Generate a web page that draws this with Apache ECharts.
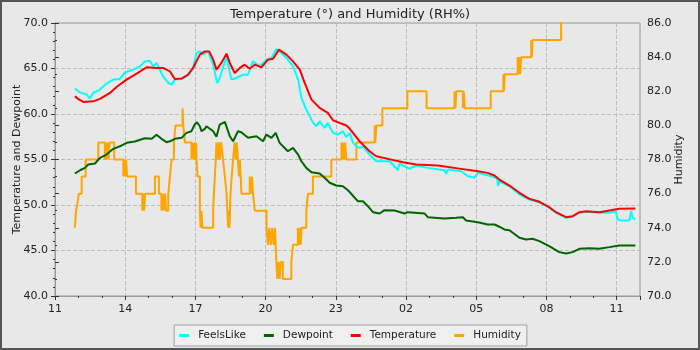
<!DOCTYPE html>
<html>
<head>
<meta charset="utf-8">
<script src="https://cdn.jsdelivr.net/npm/echarts@6/dist/echarts.min.js"></script>
<style>
  html, body { margin: 0; padding: 0; background: #e8e8e8; }
  #chart { width: 700px; height: 350px; }
</style>
</head>
<body>
<div id="chart"></div>
<script>
// Hours since 11:00 on the first day, and readings (°F / RH%).
const tempHours = [0.85,1.02,1.21,1.63,1.92,2.35,2.63,3.06,3.49,3.91,4.34,4.62,4.91,5.12,5.41,5.69,5.90,6.19,6.40,6.59,6.76,6.90,7.11,7.33,7.47,7.68,7.90,8.11,8.32,8.54,8.82,9.10,9.32,9.57,9.89,10.17,10.46,10.67,10.96,11.31,11.66,11.88,12.16,12.45,12.59,13.02,13.44,13.73,14.23,14.87,15.44,16.36,17.36,18.07,18.49,18.78,18.99,19.42,19.85,20.27,20.70,21.12,21.41,21.84,22.12,22.41,22.69,23.26,23.69,24.11,24.80];
const tempValues = [61.94,61.6,61.33,61.39,61.66,62.32,62.97,63.78,64.43,65.13,65.06,65.06,64.69,63.85,63.89,64.32,65.06,66.52,66.88,66.88,65.97,64.87,65.61,66.63,65.61,64.51,65.06,65.42,64.98,65.42,65.13,65.97,66.08,67.07,66.52,65.78,64.87,63.41,61.58,60.67,60.12,59.31,59.02,58.73,58.4,57.0,55.91,55.36,55.07,54.70,54.45,54.34,53.97,53.71,53.53,53.24,52.80,52.14,51.34,50.68,50.35,49.76,49.21,48.66,48.77,49.21,49.32,49.21,49.40,49.58,49.62];

const feelsHours = [0.85,1.07,1.35,1.49,1.63,1.92,2.20,2.49,2.77,2.99,3.34,3.63,3.84,4.05,4.20,4.34,4.48,4.62,4.84,4.98,5.12,5.41,5.62,5.88,6.05,6.19,6.33,6.54,6.76,6.93,7.04,7.33,7.54,7.75,8.04,8.25,8.46,8.75,9.03,9.25,9.46,9.68,9.89,10.17,10.39,10.53,10.74,11.03,11.17,11.31,11.52,11.66,11.88,12.09,12.30,12.45,12.59,12.74,12.88,13.02,13.16,13.44,13.73,14.30,14.65,14.72,15.15,15.44,15.93,16.64,16.72,16.79,17.36,17.64,17.93,18.07,18.64,18.90,18.93,18.99,19.42,19.85,20.27,20.70,21.12,21.41,21.84,22.12,22.41,22.69,23.26,23.69,23.97,24.04,24.19,24.54,24.62,24.69,24.80];
const feelsValues = [62.79,62.38,62.13,61.69,62.32,62.68,63.34,63.78,63.85,64.58,64.87,65.24,65.78,65.86,65.24,65.61,64.87,64.14,63.41,63.23,63.78,63.85,64.14,64.87,66.71,66.88,66.52,66.88,65.42,63.41,63.96,66.33,63.78,63.96,64.32,64.32,65.78,65.24,65.97,66.16,67.15,66.71,66.16,65.24,63.78,61.77,60.48,59.02,58.65,59.20,58.47,59.02,57.93,57.74,58.10,57.49,57.93,56.83,56.45,56.28,56.45,55.54,54.81,54.81,53.82,54.56,53.97,54.34,54.08,53.82,53.42,53.89,53.71,53.16,52.99,53.53,53.16,52.9,52.1,52.6,52.06,51.15,50.6,50.3,49.7,49.15,48.6,48.7,49.15,49.25,49.15,49.14,49.32,48.41,48.3,48.3,49.32,48.6,48.41];

const dewHours = [0.85,1.07,1.28,1.42,1.71,1.92,2.20,2.49,2.77,3.06,3.41,3.84,4.13,4.34,4.55,4.77,4.91,5.12,5.41,5.62,5.83,5.97,6.07,6.19,6.26,6.40,6.47,6.54,6.76,6.90,7.04,7.26,7.47,7.61,7.82,7.96,8.25,8.61,8.89,9.03,9.25,9.43,9.60,9.95,10.17,10.39,10.53,10.74,10.96,11.31,11.52,11.74,12.02,12.30,12.52,12.94,13.16,13.37,13.59,13.87,14.08,14.51,14.94,15.08,15.79,15.93,16.64,17.14,17.43,17.57,18.07,18.49,18.78,18.99,19.20,19.42,19.85,20.13,20.41,20.70,21.12,21.55,21.84,22.12,22.41,22.84,23.26,23.69,24.11,24.80];
const dewValues = [53.46,53.82,54.08,54.45,54.56,55.18,55.54,56.17,56.45,56.83,56.97,57.33,57.27,57.71,57.27,56.90,57.00,57.27,57.38,57.93,58.10,58.84,59.09,58.65,58.10,58.36,58.65,58.47,58.10,57.49,58.84,59.13,57.55,57.00,58.10,58.0,57.38,57.55,57.0,57.74,57.38,57.93,56.83,55.91,56.28,55.54,54.81,54.08,53.6,53.46,52.99,52.44,52.14,52.06,51.62,50.42,50.42,49.87,49.21,49.07,49.43,49.40,49.07,49.21,49.07,48.66,48.52,48.60,48.66,48.30,48.11,47.86,47.86,47.61,47.31,47.23,46.40,46.21,46.29,46.03,45.48,44.82,44.68,44.82,45.19,45.26,45.19,45.37,45.55,45.55];

// Humidity changes: each value holds from its hour until the next one.
const humHours = [0.85,0.90,0.97,1.02,1.14,1.31,1.85,2.13,2.17,2.21,2.25,2.29,2.33,2.53,2.92,2.96,3.00,3.04,3.08,3.46,3.73,3.77,3.81,3.85,4.27,4.44,4.55,4.60,4.65,4.70,4.75,4.84,4.91,4.98,5.08,5.15,5.45,5.48,5.55,5.83,5.87,5.91,5.95,5.99,6.03,6.05,6.09,6.19,6.22,6.26,6.30,6.76,6.79,6.83,6.87,6.90,6.95,7.00,7.05,7.10,7.18,7.26,7.33,7.40,7.43,7.46,7.50,7.55,7.61,7.68,7.72,7.76,7.82,7.86,7.90,7.97,8.32,8.37,8.42,8.46,8.54,9.04,9.10,9.16,9.22,9.28,9.34,9.40,9.46,9.50,9.55,9.60,9.65,9.74,10.10,10.17,10.38,10.42,10.46,10.50,10.53,10.74,10.81,11.02,11.81,12.24,12.28,12.32,12.36,12.40,12.45,12.88,13.66,13.69,13.73,13.99,15.06,15.88,17.07,17.11,17.15,17.43,17.47,17.51,18.62,19.16,19.19,19.22,19.77,19.81,19.85,19.88,19.92,20.35,20.38,20.41,21.63,23.00,24.83];
const humValues = [74,75,75.5,76,77,78,79,78,79,78,79,78,79,78,77,78,77,78,77,76,75,76,75,76,77,76,75,76,75,76,75,76,77,78,79,80,81,80,79,78,79,78,79,78,79,78,77,75,74,75,74,75,76,77,78,79,78,79,78,79,78,77,76,74,75,74,76,77,78,79,78,79,78,77,78,76,77,76,77,76,75,74,73,74,73,74,73,74,72,71,72,71,72,71,72,73,74,73,74,73,74,75,76,77,78,79,78,79,78,79,78,79,80,79,80,81,82,81,82,81,82,81,82,81,82,83,82,83,84,83,84,83,84,85,84,85,87,88,88];

// Axis tick labels: left °F, right RH%.
const xTickLabels = ['11','14','17','20','23','02','05','08','11'];
const tempTicks = [40, 70, 5];
const humTicks = [70, 86, 2];

const FONT = 'DejaVu Sans';
const pairs = (h, v) => h.map((t, i) => [t, v[i]]);

const chart = echarts.init(document.getElementById('chart'), null, { renderer: 'canvas' });

const labelStyle = { fontFamily: FONT, fontSize: 11, color: '#222' };

chart.setOption({
  animation: false,
  backgroundColor: '#e8e8e8',
  textStyle: { fontFamily: FONT },
  title: {
    text: 'Temperature (°) and Humidity (RH%)',
    left: 'center',
    top: 3,
    textStyle: { fontFamily: FONT, fontSize: 13, fontWeight: 'normal', color: '#222' }
  },
  graphic: [{
    type: 'rect',
    shape: { x: 1, y: 1, width: 698, height: 348 },
    style: { fill: 'none', stroke: '#555', lineWidth: 2 },
    silent: true,
    z: 100
  }],
  legend: {
    data: ['FeelsLike', 'Dewpoint', 'Temperature', 'Humidity'],
    left: 'center',
    top: 325,
    icon: 'rect',
    itemWidth: 10,
    itemHeight: 3,
    itemGap: 18,
    padding: [5, 6, 5, 5],
    backgroundColor: '#f0f0f0',
    borderColor: '#a0a0a0',
    borderWidth: 1,
    textStyle: { fontFamily: FONT, fontSize: 10.5, color: '#222', padding: [0, 0, 0, 4] }
  },
  grid: {
    left: 55, top: 23, width: 585, height: 273,
    show: true, borderColor: '#999', borderWidth: 1, backgroundColor: 'transparent'
  },
  xAxis: [{
    type: 'value', position: 'bottom',
    min: 0, max: 25, interval: 3,
    axisLine: { show: true, lineStyle: { color: '#999' } },
    axisTick: { show: true, length: 4, lineStyle: { color: '#333' } },
    axisLabel: Object.assign({}, labelStyle, {
      margin: 8,
      formatter: v => (v % 3 === 0 && v / 3 < xTickLabels.length) ? xTickLabels[v / 3] : ''
    }),
    splitLine: { show: true, lineStyle: { color: '#bcbcbc', type: [4, 2], width: 1 } }
  }, {
    // hourly minor tick marks
    type: 'value', position: 'bottom',
    min: 0, max: 25, interval: 1,
    axisLine: { show: false },
    axisTick: { show: true, length: 2, lineStyle: { color: '#333' } },
    axisLabel: { show: false },
    splitLine: { show: false }
  }],
  yAxis: [{
    type: 'value', position: 'left',
    min: tempTicks[0], max: tempTicks[1], interval: tempTicks[2],
    name: 'Temperature and Dewpoint',
    nameLocation: 'middle', nameGap: 32, nameMoveOverlap: false,
    nameTextStyle: { fontFamily: FONT, fontSize: 11, color: '#222' },
    axisLine: { show: true, lineStyle: { color: '#999' } },
    axisTick: { show: true, length: 4, lineStyle: { color: '#333' } },
    minorTick: { show: true, splitNumber: 5, length: 2, lineStyle: { color: '#333' } },
    axisLabel: Object.assign({}, labelStyle, { margin: 7, formatter: v => v.toFixed(1) }),
    splitLine: { show: true, lineStyle: { color: '#bcbcbc', type: [4, 2], width: 1 } }
  }, {
    type: 'value', position: 'right',
    min: humTicks[0], max: humTicks[1], interval: humTicks[2],
    name: 'Humidity',
    nameLocation: 'middle', nameGap: 34, nameMoveOverlap: false,
    nameTextStyle: { fontFamily: FONT, fontSize: 11, color: '#222' },
    axisLine: { show: true, lineStyle: { color: '#999' } },
    axisTick: { show: true, length: 4, lineStyle: { color: '#333' } },
    minorTick: { show: true, splitNumber: 2, length: 2, lineStyle: { color: '#333' } },
    axisLabel: Object.assign({}, labelStyle, { margin: 7, formatter: v => v.toFixed(1) }),
    splitLine: { show: false }
  }],
  series: [{
    name: 'Humidity', type: 'line', xAxisIndex: 0, yAxisIndex: 1,
    step: 'end', showSymbol: false, z: 1,
    color: '#ffa500',
    lineStyle: { width: 2, color: '#ffa500' },
    data: pairs(humHours, humValues)
  }, {
    name: 'FeelsLike', type: 'line', xAxisIndex: 0, yAxisIndex: 0,
    showSymbol: false, z: 2,
    color: '#00ffff',
    lineStyle: { width: 2, color: '#00ffff' },
    data: pairs(feelsHours, feelsValues)
  }, {
    name: 'Dewpoint', type: 'line', xAxisIndex: 0, yAxisIndex: 0,
    showSymbol: false, z: 3,
    color: '#006400',
    lineStyle: { width: 2, color: '#006400' },
    data: pairs(dewHours, dewValues)
  }, {
    name: 'Temperature', type: 'line', xAxisIndex: 0, yAxisIndex: 0,
    showSymbol: false, z: 4,
    color: '#ff0000',
    lineStyle: { width: 2, color: '#ff0000' },
    data: pairs(tempHours, tempValues)
  }]
});
</script>
</body>
</html>
